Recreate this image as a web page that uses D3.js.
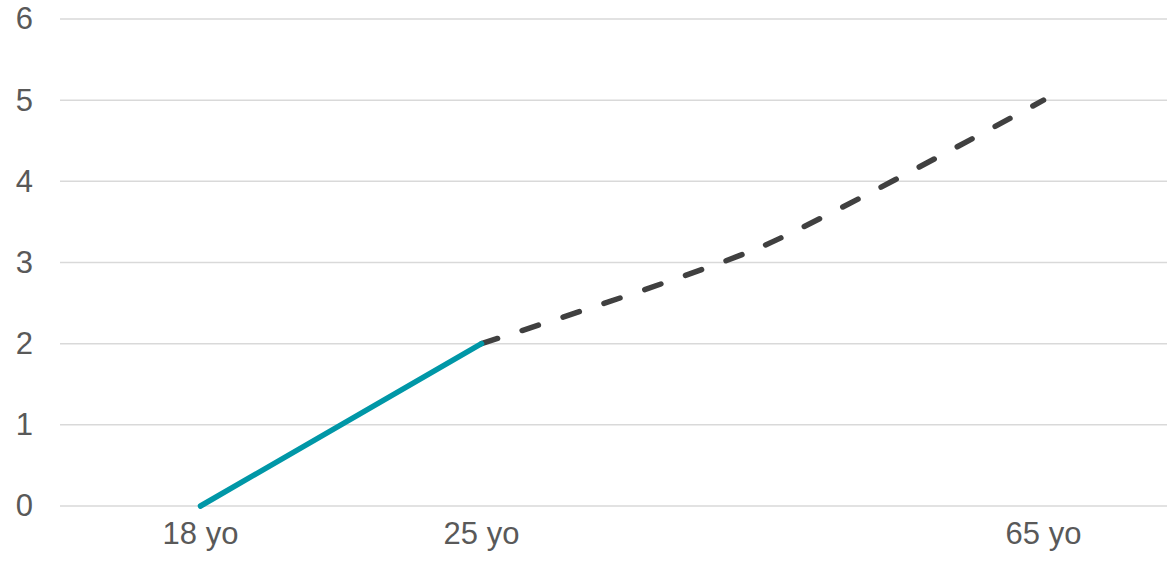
<!DOCTYPE html>
<html>
<head>
<meta charset="utf-8">
<script src="https://cdn.jsdelivr.net/npm/d3@7"></script>
<style>
  html, body { margin: 0; padding: 0; background: #fff; }
  svg { display: block; }
  text { font-family: "Liberation Sans", Arial, sans-serif; fill: #595959; }
</style>
</head>
<body>
<svg id="chart" width="1167" height="562"></svg>
<script>
// Category axis (one slot per age step; the third is unlabeled)
const categories = ["18 yo", "25 yo", "", "65 yo"];
// Actual path so far, then the projected path
const actualValues = [0, 2, null, null];
const projectedValues = [null, 2, 3.2, 5];
const yTicks = [0, 1, 2, 3, 4, 5, 6];

const svg = d3.select("#chart");
const plot = { left: 60, right: 1184, top: 19, bottom: 506 };
const fontSize = 31;

const x = d3.scaleBand()
  .domain(d3.range(categories.length))
  .range([plot.left, plot.right]);
const y = d3.scaleLinear().domain([0, 6]).range([plot.bottom, plot.top]);

// Horizontal gridlines
svg.append("g")
  .selectAll("line")
  .data(yTicks)
  .join("line")
  .attr("x1", plot.left)
  .attr("x2", plot.right)
  .attr("y1", d => y(d))
  .attr("y2", d => y(d))
  .attr("stroke", "#d9d9d9")
  .attr("stroke-width", 1.5);

// Y axis labels
const yAxis = d3.axisLeft(y).tickValues(yTicks).tickFormat(d3.format("d")).tickSize(0).tickPadding(0);
const gy = svg.append("g").attr("transform", "translate(33,0)").call(yAxis);
gy.select(".domain").remove();
gy.selectAll("text")
  .attr("font-size", fontSize)
  .attr("font-family", "Liberation Sans, Arial, sans-serif")
  .attr("fill", "#595959");

// X axis labels
const xAxis = d3.axisBottom(x).tickFormat(i => categories[i]).tickSize(0).tickPadding(0);
const gx = svg.append("g").attr("transform", "translate(0,533)").call(xAxis);
gx.select(".domain").remove();
gx.selectAll("text")
  .attr("dy", "0.35em")
  .attr("font-size", fontSize)
  .attr("font-family", "Liberation Sans, Arial, sans-serif")
  .attr("fill", "#595959");

const cx = i => x(i) + x.bandwidth() / 2;

const toPoints = vals => vals
  .map((v, i) => (v == null ? null : [cx(i), y(v)]))
  .filter(p => p);

// Projected (dashed, smoothed)
svg.append("path")
  .datum(toPoints(projectedValues))
  .attr("d", d3.line().curve(d3.curveCardinal.tension(0.3)))
  .attr("fill", "none")
  .attr("stroke", "#404040")
  .attr("stroke-width", 5.5)
  .attr("stroke-linecap", "round")
  .attr("stroke-dasharray", "17 26");

// Actual (solid teal)
svg.append("path")
  .datum(toPoints(actualValues))
  .attr("d", d3.line())
  .attr("fill", "none")
  .attr("stroke", "#0097a7")
  .attr("stroke-width", 5.5)
  .attr("stroke-linecap", "round");
</script>
</body>
</html>
